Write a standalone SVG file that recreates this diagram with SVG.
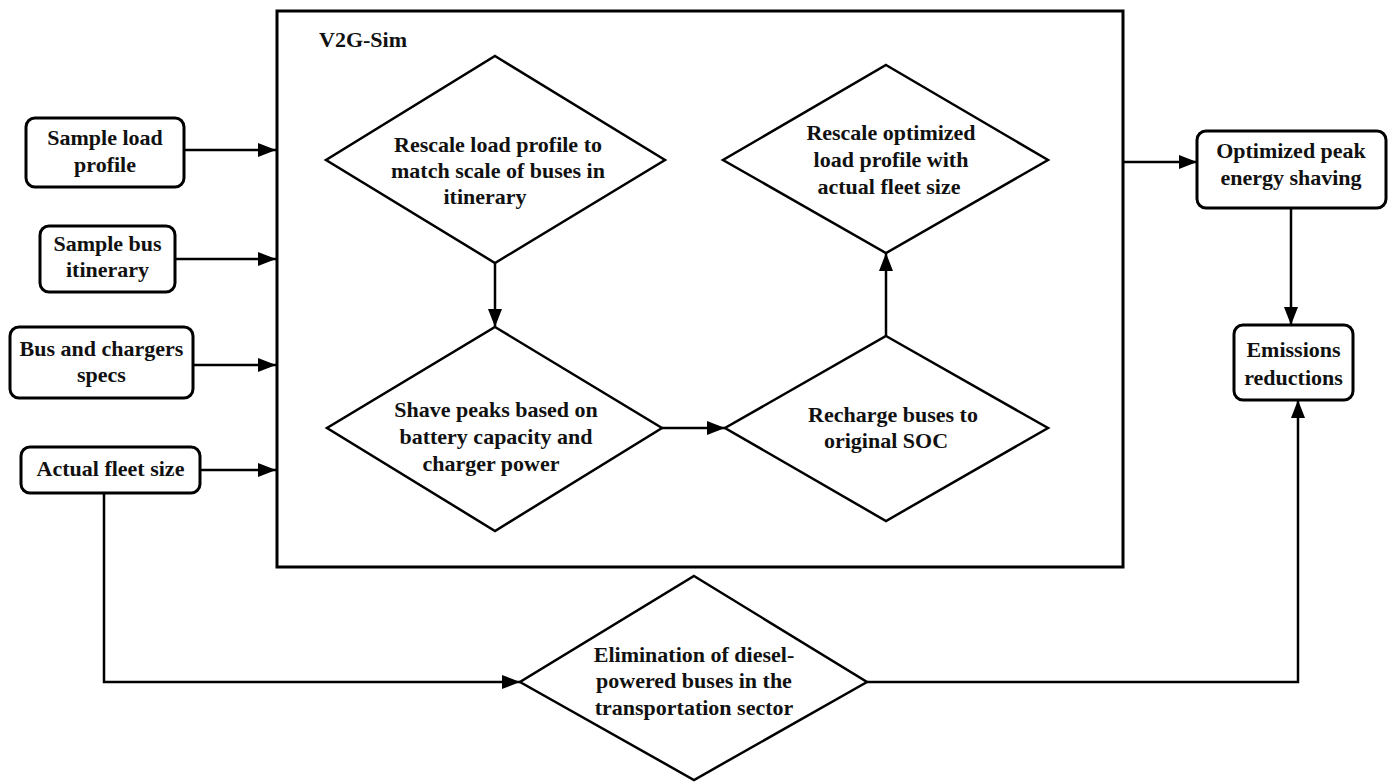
<svg xmlns="http://www.w3.org/2000/svg" width="1390" height="784" viewBox="0 0 1390 784">
<defs>
<marker id="ah" markerUnits="userSpaceOnUse" markerWidth="20" markerHeight="16" refX="18" refY="7" orient="auto">
<path d="M0,0 L18,7 L0,14 z" fill="#000"/>
</marker>
<style>
.box{fill:#fff;stroke:#000;stroke-width:3}
.dia{fill:#fff;stroke:#000;stroke-width:2.5}
.frame{fill:none;stroke:#000;stroke-width:3}
.ln{fill:none;stroke:#000;stroke-width:2.5}
.ar{fill:none;stroke:#000;stroke-width:2.5;marker-end:url(#ah)}
text{font-family:"Liberation Serif","Times New Roman",serif;font-weight:bold;font-size:22px;fill:#111;text-anchor:middle}
</style>
</defs>
<rect width="1390" height="784" fill="#fff"/>

<g id="v2g-sim">
<rect class="frame" x="277" y="11" width="846" height="556"/>
<text x="319" y="47" style="text-anchor:start">V2G-Sim</text>
</g>

<g id="connectors">
<line class="ar" x1="184" y1="150" x2="276" y2="150"/>
<line class="ar" x1="175" y1="259" x2="276" y2="259"/>
<line class="ar" x1="193" y1="365" x2="276" y2="365"/>
<line class="ar" x1="200" y1="470" x2="276" y2="470"/>
<line class="ar" x1="495" y1="263" x2="495" y2="327"/>
<line class="ar" x1="662" y1="428" x2="725" y2="428"/>
<line class="ar" x1="886" y1="336" x2="886" y2="253"/>
<line class="ar" x1="1123" y1="162" x2="1197" y2="162"/>
<line class="ar" x1="1291" y1="208" x2="1291" y2="325"/>
<polyline class="ar" points="104,493 104,682 520,682"/>
<polyline class="ar" points="867,682 1298,682 1298,400"/>
</g>

<g id="sample-load-profile">
<rect class="box" x="26" y="118" width="158" height="69" rx="9"/>
<text x="105" y="145">Sample load</text>
<text x="105" y="172">profile</text>
</g>

<g id="sample-bus-itinerary">
<rect class="box" x="40" y="226" width="135" height="66" rx="9"/>
<text x="107.5" y="251">Sample bus</text>
<text x="107.5" y="277">itinerary</text>
</g>

<g id="bus-chargers-specs">
<rect class="box" x="10" y="327" width="183" height="71" rx="9"/>
<text x="101.5" y="356">Bus and chargers</text>
<text x="101.5" y="382">specs</text>
</g>

<g id="actual-fleet-size">
<rect class="box" x="21" y="447" width="179" height="46" rx="9"/>
<text x="110.5" y="476">Actual fleet size</text>
</g>

<g id="rescale-load-profile">
<polygon class="dia" points="495,56 665,160 495,263 326,160"/>
<text x="498" y="152">Rescale load profile to</text>
<text x="498" y="178">match scale of buses in</text>
<text x="485" y="204">itinerary</text>
</g>

<g id="shave-peaks">
<polygon class="dia" points="495,327 662,428 495,531 327,428"/>
<text x="496" y="417">Shave peaks based on</text>
<text x="496" y="444">battery capacity and</text>
<text x="491" y="471">charger power</text>
</g>

<g id="recharge-buses">
<polygon class="dia" points="886,336 1048,428 886,521 725,428"/>
<text x="893" y="422">Recharge buses to</text>
<text x="886" y="448">original SOC</text>
</g>

<g id="rescale-optimized">
<polygon class="dia" points="886,65 1048,160 886,253 723,160"/>
<text x="891" y="140">Rescale optimized</text>
<text x="891" y="167">load profile with</text>
<text x="889" y="194">actual fleet size</text>
</g>

<g id="optimized-peak">
<rect class="box" x="1197" y="131" width="189" height="77" rx="9"/>
<text x="1291" y="158">Optimized peak</text>
<text x="1291" y="185">energy shaving</text>
</g>

<g id="emissions-reductions">
<rect class="box" x="1234" y="325" width="119" height="75" rx="9"/>
<text x="1293.5" y="357">Emissions</text>
<text x="1293.5" y="385">reductions</text>
</g>

<g id="elimination-diesel">
<polygon class="dia" points="694,576 867,682 694,780 520,682"/>
<text x="694" y="662">Elimination of diesel-</text>
<text x="694" y="688">powered buses in the</text>
<text x="694" y="715">transportation sector</text>
</g>
</svg>
